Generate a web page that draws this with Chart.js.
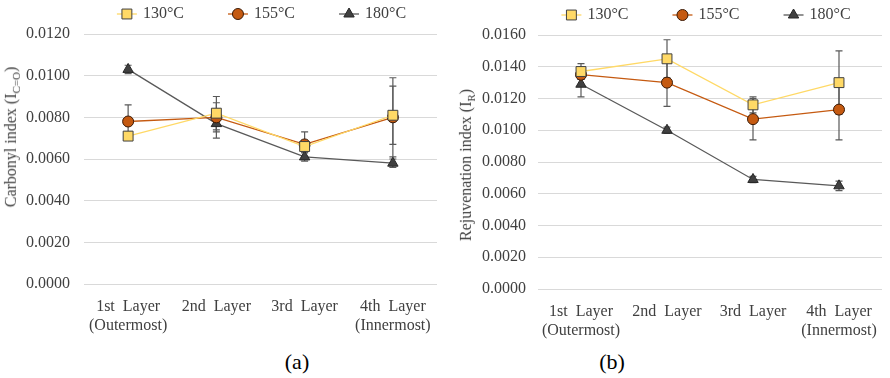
<!DOCTYPE html>
<html lang="en">
<head>
<meta charset="UTF-8">
<title>Carbonyl and rejuvenation index by layer</title>
<script src="https://cdn.jsdelivr.net/npm/chart.js"></script>
<style>
    body {
        margin: 0;
        background: #fff;
        font-family: 'Liberation Serif', 'Times New Roman', serif;
    }
    .wrap {
        position: relative;
        width: 890px;
        height: 378px;
    }
    .panel {
        position: absolute;
        top: 0;
        width: 445px;
        height: 345px;
    }
    .ytitle {
        position: absolute;
        transform: translate(-50%, -50%) rotate(-90deg);
        white-space: nowrap;
        font-size: 16px;
        color: #404040;
    }
    .ytitle sub {
        font-size: 11px;
    }
    .caption {
        position: absolute;
        transform: translate(-50%, -50%);
        font-size: 22px;
        color: #000;
    }
</style>
</head>
<body>
<div class="wrap">
    <div class="panel" style="left:0"><canvas id="carbonyl"></canvas></div>
    <div class="panel" style="left:445px"><canvas id="rejuvenation"></canvas></div>
    <div class="ytitle" style="left:12px; top:137px">Carbonyl index (I<sub>C=O</sub>)</div>
    <div class="ytitle" style="left:467px; top:165px">Rejuvenation index (I<sub>R</sub>)</div>
    <div class="caption" style="left:297px; top:362px">(a)</div>
    <div class="caption" style="left:612px; top:362px">(b)</div>
</div>
<script>
    // layers along the x axis
    const layers = [["1st  Layer", "(Outermost)"], "2nd  Layer", "3rd  Layer", ["4th  Layer", "(Innermost)"]];
    const temps = ["130°C", "155°C", "180°C"];

    // (a) carbonyl index, mean and error
    const carbonyl130 = [0.0071, 0.0082, 0.0066, 0.0081];
    const carbonyl155 = [0.0078, 0.0080, 0.0067, 0.0080];
    const carbonyl180 = [0.0103, 0.0077, 0.0061, 0.0058];
    const carbonylErr130 = [0.0002, 0.0008, 0.0003, 0.0014];
    const carbonylErr155 = [0.0008, 0.0007, 0.0006, 0.0019];
    const carbonylErr180 = [0.0002, 0.0007, 0.0002, 0.0002];

    // (b) rejuvenation index, mean and error
    const rejuv130 = [0.0137, 0.0145, 0.0116, 0.0130];
    const rejuv155 = [0.0135, 0.0130, 0.0107, 0.0113];
    const rejuv180 = [0.0129, 0.0100, 0.0069, 0.0065];
    const rejuvErr130 = [0.0005, 0.0012, 0.0005, 0.0020];
    const rejuvErr155 = [0.0003, 0.0015, 0.0013, 0.0019];
    const rejuvErr180 = [0.0008, 0.0002, 0.0002, 0.0003];

    const FONT = "'Liberation Serif', 'Times New Roman', serif";
    const TEXT = "#404040";

    const looks = [
        { line: "#FFD966", fill: "#FFD966", border: "#404040", shape: "rect", radius: 7 },
        { line: "#C55A11", fill: "#C55A11", border: "#3a1a06", shape: "circle", radius: 5.5 },
        { line: "#595959", fill: "#404040", border: "#262626", shape: "triangle", radius: 6 }
    ];

    function marker(ctx, shape, x, y, r, fill, border) {
        ctx.save();
        ctx.fillStyle = fill;
        ctx.strokeStyle = border;
        ctx.lineWidth = 1;
        ctx.beginPath();
        if (shape === "rect") {
            const s = Math.SQRT1_2 * r;
            ctx.rect(x - s, y - s, 2 * s, 2 * s);
        } else if (shape === "circle") {
            ctx.arc(x, y, r, 0, Math.PI * 2);
        } else {
            ctx.moveTo(x, y - r);
            ctx.lineTo(x + r * 0.866, y + r * 0.5);
            ctx.lineTo(x - r * 0.866, y + r * 0.5);
            ctx.closePath();
        }
        ctx.fill();
        ctx.stroke();
        ctx.restore();
    }

    // vertical error bars with caps, drawn under the lines and markers
    const errorBars = {
        id: "errorBars",
        beforeDatasetsDraw(chart) {
            const ctx = chart.ctx;
            const y = chart.scales.y;
            ctx.save();
            ctx.strokeStyle = "#595959";
            ctx.lineWidth = 1.2;
            chart.data.datasets.forEach((ds, i) => {
                const meta = chart.getDatasetMeta(i);
                meta.data.forEach((pt, j) => {
                    const v = ds.data[j], e = ds.errors[j];
                    const top = y.getPixelForValue(v + e);
                    const bot = y.getPixelForValue(v - e);
                    ctx.beginPath();
                    ctx.moveTo(pt.x, top);
                    ctx.lineTo(pt.x, bot);
                    ctx.moveTo(pt.x - 3.5, top);
                    ctx.lineTo(pt.x + 3.5, top);
                    ctx.moveTo(pt.x - 3.5, bot);
                    ctx.lineTo(pt.x + 3.5, bot);
                    ctx.stroke();
                });
            });
            ctx.restore();
        }
    };

    // legend row: short line with marker, then label, centred over the plot
    const lineLegend = {
        id: "lineLegend",
        afterDraw(chart, args, opts) {
            const ctx = chart.ctx;
            ctx.save();
            ctx.font = "16px " + FONT;
            ctx.textBaseline = "middle";
            const lineW = 20, gap = 6, spacing = 44;
            const widths = chart.data.datasets.map(ds => lineW + gap + ctx.measureText(ds.label).width);
            const total = widths.reduce((a, b) => a + b, 0) + spacing * (widths.length - 1);
            let x = (chart.chartArea.left + chart.chartArea.right) / 2 - total / 2 + opts.shift;
            const yc = opts.y;
            chart.data.datasets.forEach((ds, i) => {
                const lk = looks[i];
                ctx.strokeStyle = lk.line;
                ctx.lineWidth = 1.3;
                ctx.beginPath();
                ctx.moveTo(x, yc);
                ctx.lineTo(x + lineW, yc);
                ctx.stroke();
                marker(ctx, lk.shape, x + lineW / 2, yc, lk.radius, lk.fill, lk.border);
                ctx.fillStyle = TEXT;
                ctx.fillText(ds.label, x + lineW + gap, yc);
                x += widths[i] + spacing;
            });
            ctx.restore();
        }
    };

    function makeSeries(values, errors) {
        return values.map((v, i) => ({
            label: temps[i],
            data: v,
            errors: errors[i],
            borderColor: looks[i].line,
            backgroundColor: looks[i].fill,
            pointBackgroundColor: looks[i].fill,
            pointBorderColor: looks[i].border,
            pointBorderWidth: 1,
            pointStyle: looks[i].shape,
            pointRadius: looks[i].radius,
            borderWidth: 1.3,
            tension: 0
        }));
    }

    function drawChart(id, series, yMax, pad, axisW, axisH, legend, tickPad) {
        new Chart(document.getElementById(id), {
            type: "line",
            data: { labels: layers, datasets: series },
            options: {
                responsive: true,
                maintainAspectRatio: false,
                animation: false,
                layout: { padding: pad },
                plugins: {
                    legend: { display: false },
                    tooltip: { enabled: false },
                    lineLegend: legend
                },
                scales: {
                    x: {
                        offset: true,
                        grid: { display: false },
                        border: { display: false },
                        ticks: { color: TEXT, font: { family: FONT, size: 16 }, padding: 5, maxRotation: 0, autoSkip: false },
                        afterFit(s) { s.height = axisH; }
                    },
                    y: {
                        min: 0,
                        max: yMax,
                        grid: { color: "#d9d9d9", lineWidth: 1, drawTicks: false },
                        border: { display: false },
                        ticks: {
                            stepSize: 0.002,
                            color: TEXT,
                            font: { family: FONT, size: 16 },
                            padding: tickPad,
                            callback: v => v.toFixed(4)
                        },
                        afterFit(s) { s.width = axisW; }
                    }
                }
            },
            plugins: [errorBars, lineLegend]
        });
    }

    drawChart("carbonyl",
        makeSeries([carbonyl130, carbonyl155, carbonyl180], [carbonylErr130, carbonylErr155, carbonylErr180]),
        0.012, { top: 34, left: 0, right: 8, bottom: 0 }, 84, 61, { y: 14, shift: 1 }, 14);

    drawChart("rejuvenation",
        makeSeries([rejuv130, rejuv155, rejuv180], [rejuvErr130, rejuvErr155, rejuvErr180]),
        0.016, { top: 35, left: 0, right: 1, bottom: 0 }, 93, 56, { y: 15, shift: -4 }, 12);
</script>
</body>
</html>
